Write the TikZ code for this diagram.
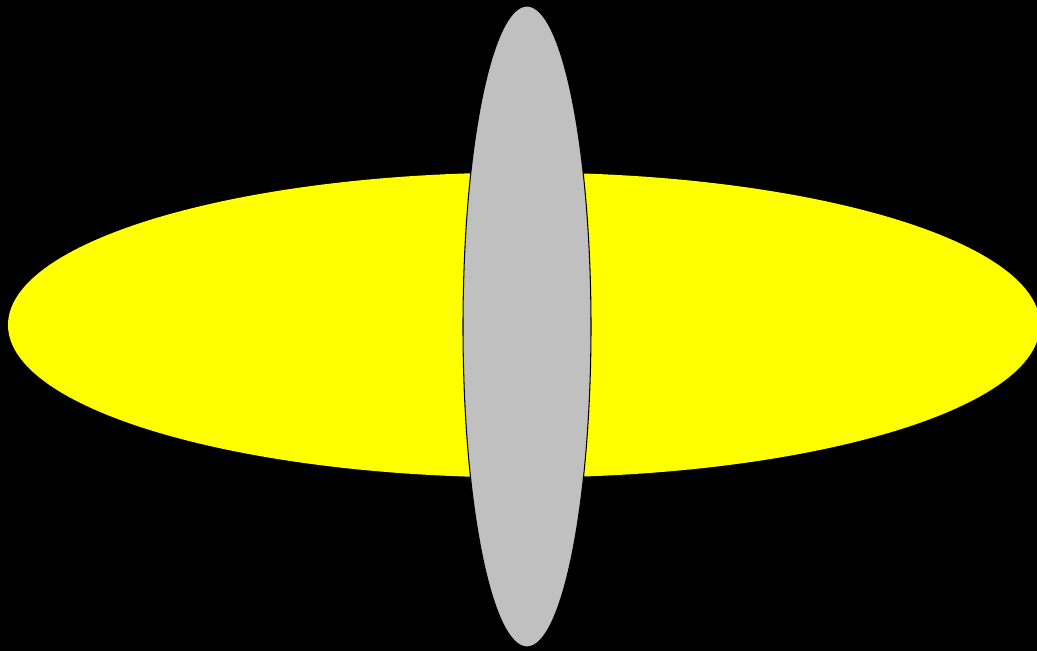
\documentclass[tikz,border=0pt]{standalone}
\usepackage{tikz}
\usetikzlibrary{shapes.geometric, positioning}
\usepackage{xcolor}
\definecolor{discyellow}{RGB}{255,255,0}
\definecolor{bladegray}{RGB}{192,192,192}

\begin{document}
\begin{tikzpicture}[
    disc/.style={fill=discyellow, draw=none},
    blade/.style={fill=bladegray, draw=black, line width=0.6pt}
]
\fill[black] (0,0) rectangle (20.74,13.02);
\useasboundingbox (0,0) rectangle (20.74,13.02);
\clip (0,0) rectangle (20.74,13.02);
\coordinate (mid) at (10.48,6.52);
\coordinate (axis) at (10.54,6.49);
\fill[disc] (mid) ellipse [x radius=10.32, y radius=3.05];
\filldraw[blade] (axis) ellipse [x radius=1.28, y radius=6.41];
\end{tikzpicture}
\end{document}
